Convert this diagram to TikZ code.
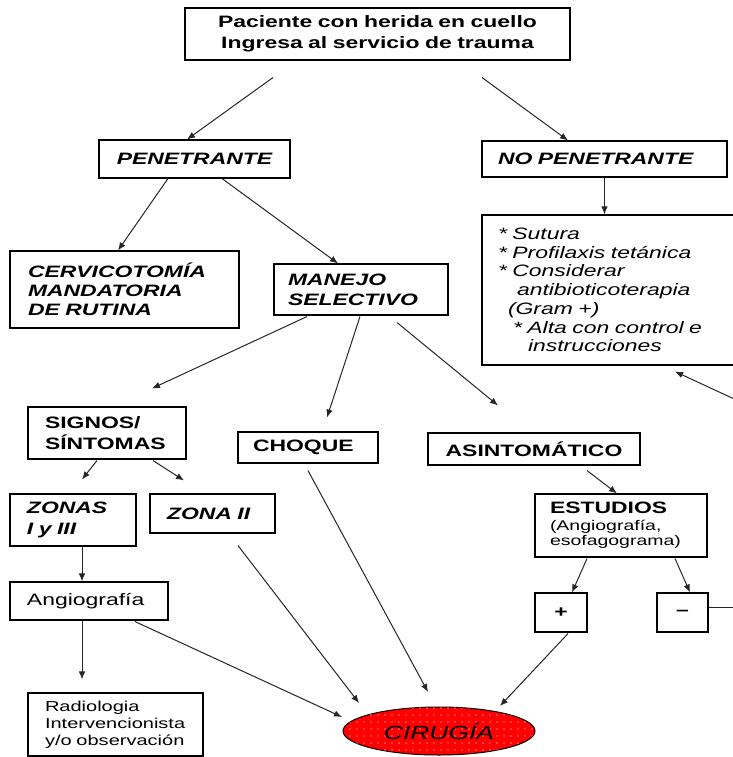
\documentclass[tikz,border=0pt]{standalone}
\usepackage{fontspec}
\setmainfont{Liberation Sans}[FakeStretch=1.39]
\usetikzlibrary{arrows.meta,calc,shapes.geometric,patterns.meta}
\tikzset{
  box/.style={draw=black, line width=1.1pt, rectangle, inner ysep=0pt, font=\fontsize{16.5}{19.5}\selectfont},
  arr/.style={draw=black!85, line width=1pt, -{Latex[length=8pt,width=6.5pt]}},
  plain/.style={draw=black!85, line width=1pt},
}
\begin{document}
\begin{tikzpicture}[x=1pt,y=-1pt]
\fill[white] (0,0) rectangle (732,757);
\useasboundingbox (0,0) rectangle (732,757);

\node[box, text width=365pt, inner xsep=10pt, minimum height=52pt, align=center, font=\fontsize{16.5}{21}\selectfont\bfseries] (top) at (377.5,34) {Paciente con herida en cuello\\Ingresa al servicio de trauma};
\node[box, text width=171pt, inner xsep=10pt, minimum height=38pt, align=center, font=\fontsize{16.5}{19.5}\selectfont\bfseries\itshape] (pen) at (194.5,159) {PENETRANTE};
\node[box, text width=213pt, inner xsep=16pt, minimum height=36pt, align=left, font=\fontsize{16.5}{19.5}\selectfont\bfseries\itshape] (nopen) at (604.5,159) {NO PENETRANTE};
\node[box, text width=193pt, inner xsep=18pt, minimum height=77pt, align=left, font=\fontsize{16.5}{19}\selectfont\bfseries\itshape] (cerv) at (124.5,289.5) {CERVICOTOMÍA\\MANDATORIA\\DE RUTINA};
\node[box, text width=146pt, inner xsep=14pt, minimum height=51pt, align=left, font=\fontsize{16.5}{20}\selectfont\bfseries\itshape] (man) at (361,289.5) {MANEJO\\SELECTIVO};
\node[box, text width=231pt, inner xsep=16pt, minimum height=150pt, align=left, font=\fontsize{16.5}{18.7}\selectfont\itshape] (list) at (613.5,290) {{*} Sutura\\{*} Profilaxis tetánica\\{*} Considerar\\\hspace*{19pt}antibioticoterapia\\\hspace*{10pt}(Gram +)\\\hspace*{15pt}{*} Alta con control e\\\hspace*{30pt}instrucciones};
\node[box, text width=124pt, inner xsep=17pt, minimum height=52pt, align=left, font=\fontsize{16.5}{21}\selectfont\bfseries] (sig) at (107,433) {SIGNOS/\\SÍNTOMAS};
\node[box, text width=110pt, inner xsep=15pt, minimum height=31pt, align=left, font=\fontsize{16.5}{19.5}\selectfont\bfseries] (choque) at (308,447.5) {CHOQUE};
\node[box, text width=192pt, inner xsep=10pt, minimum height=32pt, align=center, font=\fontsize{16.5}{19.5}\selectfont\bfseries] (asin) at (534,449) {ASINTOMÁTICO};
\node[box, text width=92pt, inner xsep=17pt, minimum height=52pt, align=left, font=\fontsize{16.5}{21}\selectfont\bfseries\itshape] (zonas) at (73,520) {ZONAS\\I y III};
\node[box, text width=91pt, inner xsep=17pt, minimum height=39pt, align=left, font=\fontsize{16.5}{19.5}\selectfont\bfseries\itshape] (zona2) at (212.5,513.5) {ZONA II};
\node[box, text width=124pt, inner xsep=17pt, minimum height=38pt, align=left] (angio) at (89,601) {Angiografía};
\node[box, text width=141pt, inner xsep=17pt, minimum height=63pt, align=left, font=\fontsize{14.4}{17}\selectfont] (rad) at (115.5,724.5) {Radiologia\\Intervencionista\\y/o observación};
\node[box, text width=142pt, inner xsep=15pt, minimum height=63pt, align=left, font=\fontsize{14}{15.5}\selectfont] (est) at (621,525.5) {{\fontsize{16.5}{18}\selectfont\bfseries ESTUDIOS}\\[1pt](Angiografía,\\esofagograma)};
\node[box, minimum width=52pt, minimum height=39pt, inner xsep=0pt, font=\fontsize{16.5}{19.5}\selectfont\bfseries] (plus) at (561,612.5) {+};
\node[box, minimum width=51pt, minimum height=39pt, inner xsep=0pt, font=\fontsize{16.5}{19.5}\selectfont\bfseries] (minus) at (682.5,612.5) {–};
\node[ellipse, draw=black, line width=1pt, fill=red, minimum width=192pt, minimum height=48pt, inner sep=0pt,
  postaction={pattern={Dots[distance=7pt,radius=0.7pt]}, pattern color=white},
  font=\fontsize{19}{22}\selectfont\itshape] (cir) at (439,731) {CIRUGÍA};

\coordinate (rin) at (745,404);
\coordinate (rout) at (745,607);

\draw[arr] ($(top.south)+(-104.5,17)$) -- ($(pen.north)+(-7.5,0)$);
\draw[arr] ($(top.south)+(104.5,17)$) -- ($(nopen.north)+(-36.5,0)$);
\draw[arr] ($(pen.south)+(-26.5,0)$) -- ($(cerv.north)+(-6.5,0)$);
\draw[arr] ($(pen.south)+(27.5,0)$) -- ($(man.north)+(-23,0)$);
\draw[arr] (nopen.south) -- (nopen.south |- list.north);
\draw[arr] (rin) -- ($(list.south)+(61.5,6)$);
\draw[arr] ($(man.south)+(-54,1)$) -- ($(sig.north)+(45,-18)$);
\draw[arr] ($(man.south)+(-1,1)$) -- ($(choque.north)+(19,-14)$);
\draw[arr] ($(man.south)+(36,7)$) -- ($(asin.north)+(-36,-27)$);
\draw[arr] ($(sig.south)+(-10,1)$) -- ($(zonas.north)+(9,-14)$);
\draw[arr] ($(sig.south)+(46,1)$) -- ($(zona2.north)+(-28.5,-13)$);
\draw[arr] ($(zonas.south)+(9,0)$) -- ($(angio.north)+(-7,0)$);
\draw[arr] ($(angio.south)+(-7,0)$) -- ($(rad.north)+(-33.5,-13)$);
\draw[arr] ($(angio.south)+(46,1)$) -- ($(cir.center)+(-97,-14)$);
\draw[arr] ($(zona2.south)+(25.5,12)$) -- ($(cir.center)+(-80,-28)$);
\draw[arr] ($(choque.south)+(0,7)$) -- ($(cir.center)+(-11,-39)$);
\draw[arr] ($(plus.south)+(7,1)$) -- ($(cir.center)+(61,-25)$);
\draw[arr] ($(asin.south)+(53,5)$) -- ($(est.north)+(-4,0)$);
\draw[arr] ($(est.south)+(-34,1)$) -- ($(plus.north)+(11,0)$);
\draw[arr] ($(est.south)+(54,1)$) -- ($(minus.north)+(7.5,0)$);
\draw[plain] ($(minus.east)+(0,-5.5)$) -- (rout);
\end{tikzpicture}
\end{document}
